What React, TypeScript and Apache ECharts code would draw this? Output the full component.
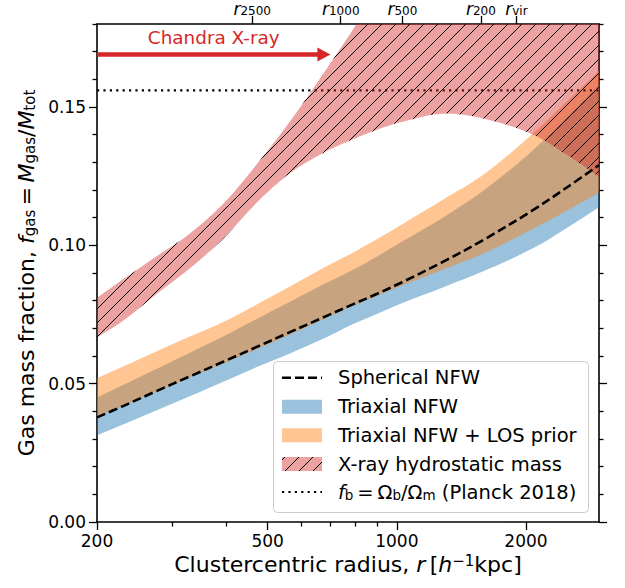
import React, { useEffect, useRef } from 'react';
import * as echarts from 'echarts';

// ---------------- data ----------------
const radii = [200, 230, 275, 330, 395, 470, 565, 675, 780, 900, 1020, 1280, 1590, 2080, 2490, 2960];
const sphericalNFW = [0.0378, 0.0419, 0.0473, 0.0527, 0.058, 0.0632, 0.0687, 0.074, 0.0783, 0.0825, 0.0864, 0.094, 0.1019, 0.1128, 0.1209, 0.129];
const triaxialLow = [0.0313, 0.0352, 0.0403, 0.0455, 0.0508, 0.0559, 0.061, 0.0663, 0.0711, 0.0753, 0.0789, 0.0848, 0.0906, 0.099, 0.1063, 0.1138];
const triaxialHigh = [0.045, 0.0495, 0.0553, 0.0613, 0.0671, 0.0733, 0.0797, 0.0859, 0.0907, 0.096, 0.101, 0.11, 0.1197, 0.1345, 0.1464, 0.158];
const losLow = [0.038, 0.042, 0.0471, 0.0523, 0.0574, 0.0624, 0.0679, 0.0733, 0.0777, 0.0818, 0.0852, 0.0912, 0.097, 0.106, 0.1125, 0.119];
const losHigh = [0.052, 0.0562, 0.0616, 0.0671, 0.0724, 0.0785, 0.0852, 0.0919, 0.0969, 0.1023, 0.1073, 0.1165, 0.1255, 0.1405, 0.152, 0.163];
const xrayLow = [0.0667, 0.0727, 0.0823, 0.0918, 0.1026, 0.1152, 0.1262, 0.1335, 0.138, 0.1418, 0.1445, 0.1476, 0.1458, 0.14, 0.1327, 0.1248];
const xrayHigh = [0.081, 0.0877, 0.096, 0.1044, 0.1152, 0.129, 0.145, 0.1622, 0.1767, 0.1911, 0.2, 0.215, 0.225, 0.235, 0.24, 0.245];
const planckFb = 0.156;
const chandraRange = [200, 700];
const chandraLevel = 0.169;
const chandraLabelLevel = 0.175;
const chandraLabel = 'Chandra X-ray';

const xRange = [200, 2960];
const yRange = [0, 0.18];
const xMajorTicks = [200, 500, 1000, 2000];
const xMinorTicks = [300, 400, 600, 700, 800, 900];
const yMajorTicks = [0, 0.05, 0.1, 0.15];
const yMinorTicks = [0.01, 0.02, 0.03, 0.04, 0.06, 0.07, 0.08, 0.09, 0.11, 0.12, 0.13, 0.14, 0.16, 0.17, 0.18];
const topTickRadii = [460, 740, 1030, 1570, 1900];
const topTickNames = ['2500', '1000', '500', '200', 'vir'];

const legendLabels = [
  'Spherical NFW',
  'Triaxial NFW',
  'Triaxial NFW + LOS prior',
  'X-ray hydrostatic mass',
  '{i|f}{s|b}\u2009=\u2009Ω{s|b}/Ω{s|m} (Planck 2018)',
];

// ---------------- styles ----------------
const FONT = 'DejaVu Sans';
const RED = '#d62728';
const BLUE_FILL = 'rgba(31,119,180,0.45)';
const ORANGE_FILL = 'rgba(255,127,14,0.45)';
const RED_FILL = 'rgba(214,39,40,0.43)';
const SMOOTH = 0.35;

const lx = (r: number) => Math.log10(r);

function makeHatch(): HTMLCanvasElement {
  const s = 14;
  const c = document.createElement('canvas');
  c.width = s;
  c.height = s;
  const ctx = c.getContext('2d')!;
  ctx.fillStyle = RED_FILL;
  ctx.fillRect(0, 0, s, s);
  ctx.strokeStyle = '#000';
  ctx.lineWidth = 1;
  ctx.beginPath();
  ctx.moveTo(-2, s + 2);
  ctx.lineTo(s + 2, -2);
  ctx.moveTo(-2, 2);
  ctx.lineTo(2, -2);
  ctx.moveTo(s - 2, s + 2);
  ctx.lineTo(s + 2, s - 2);
  ctx.stroke();
  return c;
}

function bandSeries(name: string, lower: number[], upper: number[], fill: any, z: number) {
  return {
    type: 'custom',
    name,
    coordinateSystem: 'cartesian2d',
    xAxisIndex: 0,
    yAxisIndex: 0,
    clip: true,
    silent: true,
    z,
    data: [[lx(radii[0]), lower[0]]],
    renderItem: (_params: any, api: any) => {
      const n = radii.length;
      const top: number[][] = radii.map((r, i) => api.coord([lx(r), upper[i]]));
      const bot: number[][] = radii.map((r, i) => api.coord([lx(r), lower[i]]));
      // corners are doubled so the smoothing keeps the band ends straight
      const pts: number[][] = [top[0], ...top, top[n - 1]];
      for (let i = n - 1; i >= 0; i--) {
        pts.push(bot[i]);
        if (i === n - 1 || i === 0) pts.push(bot[i]);
      }
      return { type: 'polygon', shape: { points: pts, smooth: SMOOTH }, style: { fill } };
    },
  };
}

export default function App() {
  const ref = useRef<HTMLDivElement>(null);

  useEffect(() => {
    document.body.style.margin = '0';
    const chart = echarts.init(ref.current!, null, { renderer: 'svg' });
    const hatch = { image: makeHatch(), repeat: 'repeat' };

    const axisLineStyle = { color: '#000', width: 1.6 };
    const tickStyle = { color: '#000', width: 1.3 };
    const baseX = {
      type: 'value',
      min: lx(xRange[0]),
      max: lx(xRange[1]),
      splitLine: { show: false },
      gridIndex: 0,
    };
    const baseY = {
      type: 'value',
      min: yRange[0],
      max: yRange[1],
      splitLine: { show: false },
      gridIndex: 0,
    };

    const legendRowY = [377.7, 406.7, 435.3, 464, 492];
    const hx0 = 282, hx1 = 322, tx = 338;

    const option: any = {
      animation: false,
      textStyle: { fontFamily: FONT },
      grid: { left: 97, right: 26, top: 21, bottom: 66, containLabel: false },
      xAxis: [
        {
          ...baseX,
          position: 'bottom',
          axisLine: { show: true, onZero: false, lineStyle: axisLineStyle },
          axisTick: { show: true, length: 8, lineStyle: tickStyle, customValues: xMajorTicks.map(lx) },
          axisLabel: {
            show: true,
            customValues: xMajorTicks.map(lx),
            formatter: (v: number) => String(Math.round(Math.pow(10, v))),
            color: '#000',
            fontSize: 17,
            fontFamily: FONT,
            margin: 10,
          },
          name: 'Clustercentric radius, {i|r}\u2009[{i|h}{sup|−1}kpc]',
          nameLocation: 'middle',
          nameGap: 30,
          nameTextStyle: {
            color: '#000',
            fontSize: 22,
            fontFamily: FONT,
            rich: {
              i: { fontStyle: 'italic', fontSize: 22, fontFamily: FONT, color: '#000' },
              sup: { fontSize: 15, fontFamily: FONT, verticalAlign: 'top', color: '#000' },
            },
          },
        },
        {
          ...baseX,
          position: 'bottom',
          axisLine: { show: false, onZero: false },
          axisTick: { show: true, length: 4.5, lineStyle: tickStyle, customValues: xMinorTicks.map(lx) },
          axisLabel: { show: false },
        },
        {
          ...baseX,
          position: 'top',
          axisLine: { show: true, onZero: false, lineStyle: axisLineStyle },
          axisTick: { show: true, length: 8, lineStyle: tickStyle, customValues: topTickRadii.map(lx) },
          axisLabel: {
            show: true,
            customValues: topTickRadii.map(lx),
            margin: 7,
            formatter: (v: number) => {
              let best = 0;
              topTickRadii.forEach((r, i) => {
                if (Math.abs(lx(r) - v) < Math.abs(lx(topTickRadii[best]) - v)) best = i;
              });
              return `{r|r}{s|${topTickNames[best]}}`;
            },
            rich: {
              r: { fontStyle: 'italic', fontSize: 17, fontFamily: FONT, color: '#000' },
              s: { fontSize: 12, fontFamily: FONT, color: '#000', verticalAlign: 'bottom' },
            },
          },
        },
      ],
      yAxis: [
        {
          ...baseY,
          position: 'left',
          axisLine: { show: true, onZero: false, lineStyle: axisLineStyle },
          axisTick: { show: true, length: 8, lineStyle: tickStyle, customValues: yMajorTicks },
          axisLabel: {
            show: true,
            customValues: yMajorTicks,
            formatter: (v: number) => v.toFixed(2),
            color: '#000',
            fontSize: 17,
            fontFamily: FONT,
            margin: 11,
          },
          name: 'Gas mass fraction, {i|f}{s|gas}\u2009=\u2009{i|M}{s|gas}/{i|M}{s|tot}',
          nameLocation: 'middle',
          nameRotate: 90,
          nameGap: 52,
          nameTextStyle: {
            color: '#000',
            fontSize: 22,
            fontFamily: FONT,
            rich: {
              i: { fontStyle: 'italic', fontSize: 22, fontFamily: FONT, color: '#000' },
              s: { fontSize: 15, fontFamily: FONT, verticalAlign: 'bottom', color: '#000' },
            },
          },
        },
        {
          ...baseY,
          position: 'left',
          axisLine: { show: false, onZero: false },
          axisTick: { show: true, length: 4.5, lineStyle: tickStyle, customValues: yMinorTicks },
          axisLabel: { show: false },
        },
        {
          ...baseY,
          position: 'right',
          axisLine: { show: true, onZero: false, lineStyle: axisLineStyle },
          axisTick: { show: true, length: 8, lineStyle: tickStyle, customValues: yMajorTicks },
          axisLabel: { show: false },
        },
        {
          ...baseY,
          position: 'right',
          axisLine: { show: false, onZero: false },
          axisTick: { show: true, length: 4.5, lineStyle: tickStyle, customValues: yMinorTicks },
          axisLabel: { show: false },
        },
      ],
      series: [
        bandSeries('Triaxial NFW', triaxialLow, triaxialHigh, BLUE_FILL, 2),
        bandSeries('Triaxial NFW + LOS prior', losLow, losHigh, ORANGE_FILL, 3),
        {
          type: 'line',
          name: 'Planck 2018',
          xAxisIndex: 0,
          yAxisIndex: 0,
          z: 4,
          symbol: 'none',
          silent: true,
          data: [[lx(xRange[0]), planckFb], [lx(xRange[1]), planckFb]],
          lineStyle: { color: '#000', width: 2.2, type: [2.2, 4.2] },
        },
        bandSeries('X-ray hydrostatic mass', xrayLow, xrayHigh, hatch, 5),
        {
          type: 'line',
          name: 'Spherical NFW',
          xAxisIndex: 0,
          yAxisIndex: 0,
          z: 6,
          symbol: 'none',
          silent: true,
          smooth: SMOOTH,
          data: radii.map((r, i) => [lx(r), sphericalNFW[i]]),
          lineStyle: { color: '#000', width: 2.6, type: [9, 4] },
        },
        {
          type: 'custom',
          name: 'Chandra',
          coordinateSystem: 'cartesian2d',
          xAxisIndex: 0,
          yAxisIndex: 0,
          z: 7,
          silent: true,
          clip: false,
          data: [[lx(chandraRange[0]), chandraLevel]],
          renderItem: (_p: any, api: any) => {
            const p0 = api.coord([lx(chandraRange[0]), chandraLevel]);
            const p1 = api.coord([lx(chandraRange[1]), chandraLevel]);
            const tc = api.coord([(lx(chandraRange[0]) + lx(chandraRange[1])) / 2, chandraLabelLevel]);
            const headLen = 13;
            const headHalf = 7;
            return {
              type: 'group',
              children: [
                {
                  type: 'line',
                  shape: { x1: p0[0], y1: p0[1], x2: p1[0] - headLen + 1, y2: p1[1] },
                  style: { stroke: RED, lineWidth: 4.6 },
                },
                {
                  type: 'polygon',
                  shape: {
                    points: [
                      [p1[0], p1[1]],
                      [p1[0] - headLen, p1[1] - headHalf],
                      [p1[0] - headLen, p1[1] + headHalf],
                    ],
                  },
                  style: { fill: RED },
                },
                {
                  type: 'text',
                  x: tc[0],
                  y: tc[1],
                  style: {
                    text: chandraLabel,
                    fill: RED,
                    fontSize: 18.4,
                    fontFamily: FONT,
                    align: 'center',
                    verticalAlign: 'middle',
                  },
                },
              ],
            };
          },
        },
      ],
      graphic: [
        {
          type: 'rect',
          z: 100,
          shape: { x: 273.5, y: 361.5, width: 315, height: 151, r: 4 },
          style: { fill: 'rgba(255,255,255,0.8)', stroke: '#cccccc', lineWidth: 1 },
        },
        {
          type: 'line',
          z: 101,
          shape: { x1: hx0, y1: legendRowY[0], x2: hx1, y2: legendRowY[0] },
          style: { stroke: '#000', lineWidth: 2.6, lineDash: [9, 4] },
        },
        {
          type: 'rect',
          z: 101,
          shape: { x: hx0, y: legendRowY[1] - 7, width: hx1 - hx0, height: 14 },
          style: { fill: BLUE_FILL },
        },
        {
          type: 'rect',
          z: 101,
          shape: { x: hx0, y: legendRowY[2] - 7, width: hx1 - hx0, height: 14 },
          style: { fill: ORANGE_FILL },
        },
        {
          type: 'rect',
          z: 101,
          shape: { x: hx0, y: legendRowY[3] - 7, width: hx1 - hx0, height: 14 },
          style: { fill: hatch },
        },
        {
          type: 'line',
          z: 101,
          shape: { x1: hx0, y1: legendRowY[4], x2: hx1, y2: legendRowY[4] },
          style: { stroke: '#000', lineWidth: 2.2, lineDash: [2.2, 4.2] },
        },
        ...legendLabels.map((t, i) => ({
          type: 'text',
          z: 101,
          x: tx,
          y: legendRowY[i],
          style: {
            text: t,
            fill: '#000',
            fontSize: 19.5,
            fontFamily: FONT,
            align: 'left',
            verticalAlign: 'middle',
            rich: {
              i: { fontStyle: 'italic', fontSize: 19.5, fontFamily: FONT, fill: '#000' },
              s: { fontSize: 13.5, fontFamily: FONT, fill: '#000', verticalAlign: 'bottom' },
            },
          },
        })),
      ],
    };

    chart.setOption(option);
    return () => chart.dispose();
  }, []);

  return (
    <div
      ref={ref}
      style={{ position: 'fixed', left: 0, top: 0, width: 625, height: 588, background: '#fff' }}
    />
  );
}
